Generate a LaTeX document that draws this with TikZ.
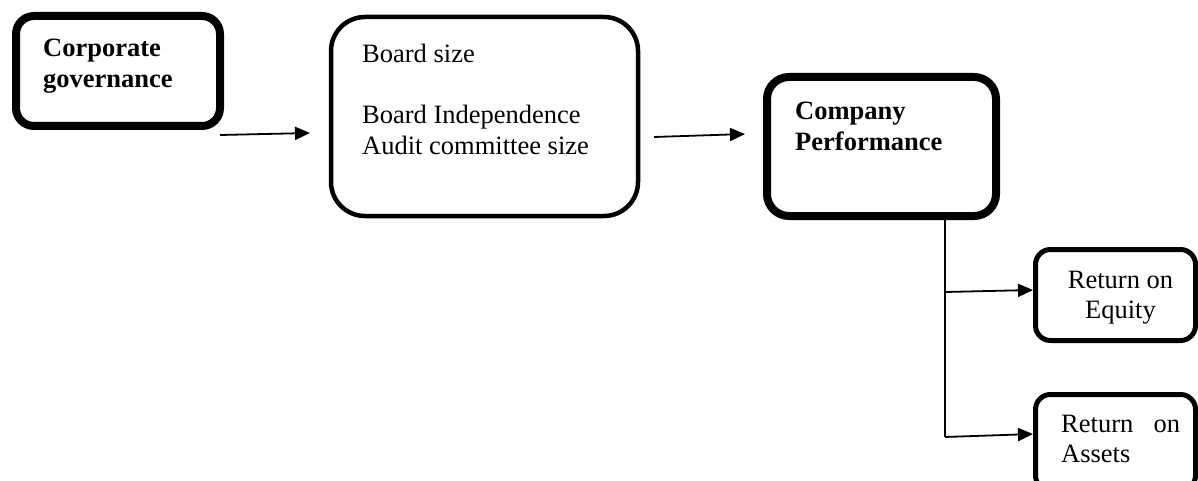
\documentclass[tikz,border=0pt]{standalone}
\usepackage{fontspec}
\setmainfont{Liberation Serif}
\usetikzlibrary{arrows.meta}
\begin{document}
\begin{tikzpicture}[x=1pt,y=-1pt,
  box/.style={draw,rectangle,inner sep=0pt,outer sep=0pt,line width=#1},
  lbl/.style={inner sep=0pt,anchor=base west,font=\fontsize{26.5}{31}\selectfont},
  lblc/.style={inner sep=0pt,anchor=base,font=\fontsize{26.5}{31}\selectfont},
  arr/.style={line width=1.8pt,-{Triangle[length=15pt,width=13pt]}},
  ln/.style={line width=1.8pt}]
\useasboundingbox (0,0) rectangle (1198,481);
\clip (0,0) rectangle (1198,481);
% boxes
\node[box=8pt,minimum width=204pt,minimum height=110pt,rounded corners=18pt] (cg) at (118,71) {};
\node[box=4.5pt,minimum width=307pt,minimum height=199pt,rounded corners=34pt] (bm) at (484.5,116.5) {};
\node[box=8pt,minimum width=229pt,minimum height=139pt,rounded corners=22pt] (cp) at (881.5,146.5) {};
\node[box=5pt,minimum width=160pt,minimum height=91pt,rounded corners=15pt] (roe) at (1115.5,295) {};
\node[box=5pt,minimum width=160pt,minimum height=96pt,rounded corners=15pt] (roa) at (1115.5,442.5) {};
% texts
\node[lbl,font=\fontsize{26.5}{31}\selectfont\bfseries] (t1) at (43,57) {Corporate};
\node[lbl,font=\fontsize{26.5}{31}\selectfont\bfseries] (t2) at (43,88) {governance};
\node[lbl] (t3) at (362,63) {Board size};
\node[lbl] (t4) at (362,124) {Board Independence};
\node[lbl] (t5) at (362,155) {Audit committee size};
\node[lbl,font=\fontsize{26.5}{31}\selectfont\bfseries] (t6) at (795,120) {Company};
\node[lbl,font=\fontsize{26.5}{31}\selectfont\bfseries] (t7) at (795,151) {Performance};
\node[lblc] (t8) at (1120.5,288) {Return on};
\node[lblc] (t9) at (1120.5,318) {Equity};
\node[lbl] (t10) at (1061,432) {\makebox[119pt][s]{Return\hfill on}};
\node[lbl] (t11) at (1061,462) {Assets};
% connectors
\draw[arr] ([yshift=-9pt]cg.south east) -- ([xshift=-21pt,yshift=-16.5pt]bm.west);
\draw[arr] ([xshift=16pt,yshift=-20.5pt]bm.east) -- ([xshift=-22pt,yshift=12.5pt]cp.west);
\coordinate (b0) at ([xshift=63.5pt]cp.south);
\coordinate (b1) at ([xshift=63.5pt,yshift=-76pt]cp.south);
\coordinate (b2) at ([xshift=63.5pt,yshift=-221pt]cp.south);
\draw[ln] (b0) -- (b2);
\draw[arr] (b1) -- ([xshift=-2.5pt,yshift=5pt]roe.west);
\draw[arr] (b2) -- ([xshift=-2.5pt,yshift=8.5pt]roa.west);
\end{tikzpicture}
\end{document}
